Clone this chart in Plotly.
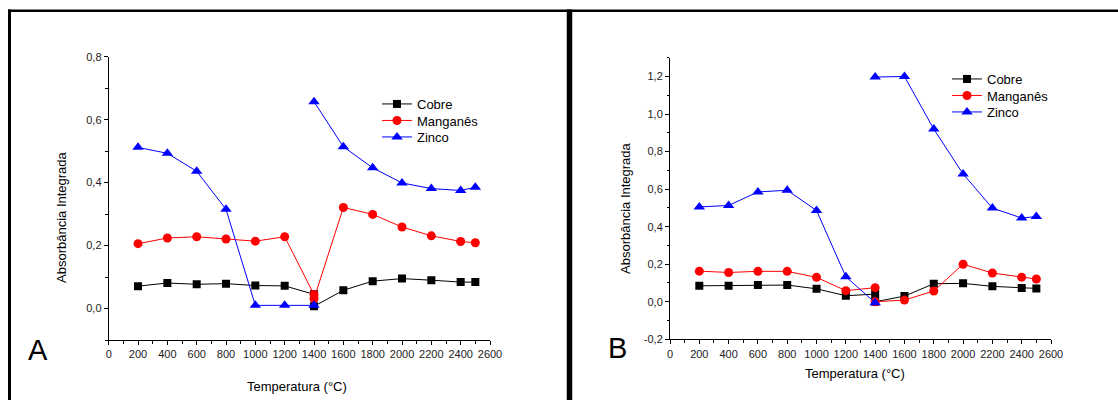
import plotly.graph_objects as go

# ---------------- data ----------------
# Temperatures; the series are broken at 1400 °C (two readings, gap in between)
temperatura = [200, 400, 600, 800, 1000, 1200, 1400, 1400, 1400, 1600, 1800, 2000, 2200, 2400, 2500]

# Panel A
cobre_A    = [0.071, 0.081, 0.077, 0.079, 0.073, 0.072, 0.045, None, 0.007, 0.058, 0.087, 0.095, 0.090, 0.084, 0.084]
manganes_A = [0.206, 0.224, 0.228, 0.221, 0.214, 0.228, 0.044, None, 0.031, 0.321, 0.299, 0.259, 0.231, 0.213, 0.209]
zinco_A    = [0.512, 0.493, 0.436, 0.315, 0.010, 0.010, 0.010, None, 0.657, 0.514, 0.447, 0.399, 0.381, 0.375, 0.385]

# Panel B
cobre_B    = [0.085, 0.085, 0.089, 0.089, 0.069, 0.032, 0.041, None, 0.000, 0.030, 0.096, 0.098, 0.082, 0.073, 0.071]
manganes_B = [0.163, 0.156, 0.162, 0.162, 0.130, 0.059, 0.075, None, 0.000, 0.009, 0.057, 0.200, 0.153, 0.131, 0.121]
zinco_B    = [0.505, 0.513, 0.585, 0.594, 0.486, 0.133, -0.005, None, 1.197, 1.200, 0.920, 0.681, 0.499, 0.446, 0.454]

series_names = ["Cobre", "Manganês", "Zinco"]

# Tick labels
x_tickvals = [0, 200, 400, 600, 800, 1000, 1200, 1400, 1600, 1800, 2000, 2200, 2400, 2600]
x_ticktext = ["0", "200", "400", "600", "800", "1000", "1200", "1400", "1600", "1800", "2000", "2200", "2400", "2600"]
yA_tickvals = [0.0, 0.2, 0.4, 0.6, 0.8]
yA_ticktext = ["0,0", "0,2", "0,4", "0,6", "0,8"]
yB_tickvals = [-0.2, 0.0, 0.2, 0.4, 0.6, 0.8, 1.0, 1.2]
yB_ticktext = ["-0,2", "0,0", "0,2", "0,4", "0,6", "0,8", "1,0", "1,2"]

x_title = "Temperatura (°C)"
y_title = "Absorbância Integrada"

# ---------------- figure ----------------
W, H = 1118, 400
FONT = "Arial, Liberation Sans, sans-serif"

styles = [
    dict(color="black", symbol="square", size=8),
    dict(color="red", symbol="circle", size=9),
    dict(color="blue", symbol="triangle-up", size=10),
]

def px_x(p):
    return p / W

def px_y(p):
    return 1 - p / H

fig = go.Figure()

legend_defs = {}
# legend row centres (pixels) for each panel
legA_x, legA_rows = 377, [104, 120.5, 137]
legB_x, legB_rows = 947, [79, 95.5, 112]

for i, (name, ys, st) in enumerate(zip(series_names, [cobre_A, manganes_A, zinco_A], styles)):
    lg = "legend" if i == 0 else f"legend{i + 1}"
    legend_defs[lg] = (legA_x, legA_rows[i])
    fig.add_trace(go.Scatter(
        x=temperatura, y=ys, name=name, mode="lines+markers",
        line=dict(color=st["color"], width=1),
        marker=dict(color=st["color"], symbol=st["symbol"], size=st["size"], line=dict(width=0)),
        connectgaps=False, xaxis="x", yaxis="y", legend=lg))

for i, (name, ys, st) in enumerate(zip(series_names, [cobre_B, manganes_B, zinco_B], styles)):
    lg = f"legend{i + 4}"
    legend_defs[lg] = (legB_x, legB_rows[i])
    fig.add_trace(go.Scatter(
        x=temperatura, y=ys, name=name, mode="lines+markers",
        line=dict(color=st["color"], width=1),
        marker=dict(color=st["color"], symbol=st["symbol"], size=st["size"], line=dict(width=0)),
        connectgaps=False, xaxis="x2", yaxis="y2", legend=lg))

axis_common = dict(
    showline=True, linecolor="black", linewidth=1, showgrid=False, zeroline=False,
    ticks="outside", ticklen=4, tickwidth=1, tickcolor="black",
    tickfont=dict(family=FONT, size=11, color="#222"),
    minor=dict(ticks="outside", ticklen=2.5, tickwidth=1, tickcolor="black", showgrid=False),
    mirror=False, automargin=False,
)

fig.update_layout(
    template="none",
    width=W, height=H, autosize=False,
    margin=dict(l=0, r=0, t=0, b=0, pad=0, autoexpand=False),
    paper_bgcolor="white", plot_bgcolor="white",
    font=dict(family=FONT, color="black"),
    xaxis=dict(axis_common, domain=[px_x(108.7), px_x(490)], range=[0, 2600],
               tickmode="array", tickvals=x_tickvals, ticktext=x_ticktext,
               minor=dict(axis_common["minor"], dtick=100, tick0=0), anchor="y"),
    yaxis=dict(axis_common, domain=[px_y(340), px_y(56.7)], range=[-0.1, 0.8],
               tickmode="array", tickvals=yA_tickvals, ticktext=yA_ticktext,
               minor=dict(axis_common["minor"], dtick=0.1, tick0=0), anchor="x"),
    xaxis2=dict(axis_common, domain=[px_x(670), px_x(1051)], range=[0, 2600],
                tickmode="array", tickvals=x_tickvals, ticktext=x_ticktext,
                minor=dict(axis_common["minor"], dtick=100, tick0=0), anchor="y2"),
    yaxis2=dict(axis_common, domain=[px_y(339.3), px_y(57.7)], range=[-0.2, 1.3],
                tickmode="array", tickvals=yB_tickvals, ticktext=yB_ticktext,
                minor=dict(axis_common["minor"], dtick=0.1, tick0=0), anchor="x2"),
    showlegend=True,
)

legend_layout = {}
for lg, (lx, ly) in legend_defs.items():
    legend_layout[lg] = dict(
        x=px_x(lx), y=px_y(ly - 15), xanchor="left", yanchor="top",
        font=dict(family=FONT, size=13, color="black"),
        bgcolor="rgba(0,0,0,0)", borderwidth=0, itemwidth=30)
fig.update_layout(**legend_layout)

ann_font = dict(family=FONT, size=13, color="black")
annotations = [
    dict(text=y_title, x=px_x(61), y=px_y(217), textangle=-90, font=ann_font),
    dict(text=y_title, x=px_x(625), y=px_y(208), textangle=-90, font=ann_font),
    dict(text=x_title, x=px_x(297), y=px_y(386), font=ann_font),
    dict(text=x_title, x=px_x(855), y=px_y(373), font=ann_font),
    dict(text="A", x=px_x(37.5), y=px_y(350), font=dict(family=FONT, size=29, color="black")),
    dict(text="B", x=px_x(617), y=px_y(348), font=dict(family=FONT, size=29, color="black")),
]
for a in annotations:
    a.update(xref="paper", yref="paper", showarrow=False, xanchor="center", yanchor="middle")
fig.update_layout(annotations=annotations)

# Panel frames
frame = dict(color="black")
shapes = [
    dict(type="line", x0=px_x(9.5), x1=px_x(9.5), y0=px_y(9.5), y1=px_y(400), line=dict(frame, width=3)),
    dict(type="line", x0=px_x(8), x1=px_x(569), y0=px_y(10.7), y1=px_y(10.7), line=dict(frame, width=2.5)),
    dict(type="line", x0=px_x(568), x1=px_x(568), y0=px_y(9.5), y1=px_y(400), line=dict(frame, width=2.5)),
    dict(type="line", x0=px_x(570.5), x1=px_x(570.5), y0=px_y(9.5), y1=px_y(400), line=dict(frame, width=3.5)),
    dict(type="line", x0=px_x(569), x1=px_x(1118), y0=px_y(10.7), y1=px_y(10.7), line=dict(frame, width=2.5)),
]
for s in shapes:
    s.update(xref="paper", yref="paper", layer="above")
fig.update_layout(shapes=shapes)

page_fix = (
    "document.documentElement.style.margin='0';"
    "document.body.style.margin='0';"
    "document.body.style.overflow='hidden';"
)

fig.write_html("out.html", config={"displayModeBar": False}, post_script=page_fix)
